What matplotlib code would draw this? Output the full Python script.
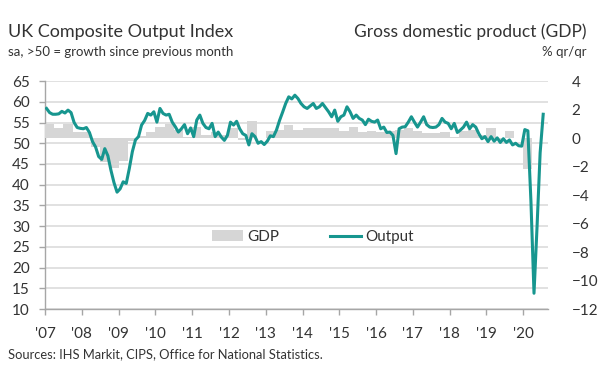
#!/usr/bin/env python3
"""
UK Composite Output Index vs quarterly GDP growth, 2007-2020
"""

import numpy as np
import matplotlib
matplotlib.use('Agg')
import matplotlib.pyplot as plt
from matplotlib.patches import Patch
from matplotlib.lines import Line2D

plt.rcParams['font.family'] = ['Lato', 'DejaVu Sans']

# monthly composite PMI, Jan 2007 .. Jul 2020
output_index = [
    58.4, 57.4, 57.0, 57.0, 57.1, 57.7, 57.3, 58.0, 57.4, 55.0, 53.8, 53.6,  # 2007
    53.5, 53.8, 52.6, 50.4, 49.1, 46.8, 46.1, 48.7, 47.0, 43.5, 40.5, 38.2,  # 2008
    39.0, 40.7, 40.3, 43.9, 48.0, 50.8, 51.6, 54.4, 55.5, 57.2, 56.8, 57.6,  # 2009
    55.1, 58.4, 57.2, 56.8, 57.0, 55.1, 54.0, 52.7, 53.5, 54.5, 52.3, 53.7,  # 2010
    51.6, 55.6, 56.8, 54.8, 53.8, 53.5, 54.8, 51.6, 52.7, 51.5, 50.7, 51.9,  # 2011
    55.1, 54.4, 55.3, 53.5, 52.3, 51.9, 49.6, 52.3, 51.6, 50.0, 50.4, 49.7,  # 2012
    50.5, 51.8, 51.6, 53.2, 55.5, 57.5, 59.6, 61.2, 60.7, 61.6, 60.8, 59.6,  # 2013
    58.8, 58.4, 59.0, 59.6, 58.4, 58.8, 59.6, 58.6, 57.6, 56.4, 58.0, 55.3,  # 2014
    56.4, 56.8, 58.8, 57.6, 56.0, 56.8, 56.0, 55.6, 54.5, 55.8, 55.3, 55.1,  # 2015
    55.6, 53.5, 53.9, 52.6, 52.7, 51.9, 47.5, 53.5, 53.9, 54.0, 55.1, 56.4,  # 2016
    55.1, 53.9, 55.1, 56.4, 54.5, 53.9, 53.8, 53.9, 54.5, 56.0, 55.1, 54.8,  # 2017
    53.5, 54.8, 52.6, 53.2, 53.9, 55.1, 53.5, 54.5, 53.9, 52.3, 51.1, 51.6,  # 2018
    50.4, 51.6, 50.5, 51.3, 50.2, 51.1, 50.2, 50.8, 49.6, 50.0, 49.4, 49.3,  # 2019
    53.3, 53.0, 36.0, 13.8, 30.0, 47.7, 57.0,                                # 2020
]

# quarterly GDP % q/q, 2007 Q1 .. 2020 Q1
gdp_qoq = [
    1.0, 0.7, 1.0, 0.45,     # 2007
    0.45, -0.6, -1.7, -2.1,  # 2008
    -1.6, -0.2, 0.15, 0.4,   # 2009
    0.8, 1.0, 0.6, 0.1,      # 2010
    0.8, 0.2, 0.4, 0.2,      # 2011
    0.7, -0.1, 1.2, 0.0,     # 2012
    0.5, 0.6, 0.9, 0.6,      # 2013
    0.7, 0.7, 0.7, 0.7,      # 2014
    0.5, 0.8, 0.4, 0.5,      # 2015
    0.4, 0.5, 0.6, 0.7,      # 2016
    0.5, 0.35, 0.35, 0.4,    # 2017
    0.1, 0.5, 0.6, 0.2,      # 2018
    0.7, -0.1, 0.5, 0.0,     # 2019
    -2.2,                    # 2020
]

years = list(range(2007, 2021))
year_labels = ["'%02d" % (y % 100) for y in years]
left_ticks = list(range(10, 70, 5))
right_ticks = list(range(-12, 6, 2))

TEAL = '#17968f'
GREY = '#d6d6d6'
TXT = '#333333'

# x positions in decimal years
month_x = 2007 + (np.arange(len(output_index)) + 0.5) / 12.0
quarter_x = 2007 + np.arange(len(gdp_qoq)) * 0.25

fig = plt.figure(figsize=(6, 3.67), dpi=100)
pos = [0.075, 0.158, 0.838, 0.621]

ax = fig.add_axes(pos)
ax.set_xlim(2007, 2020 + 8 / 12.0)
ax.set_ylim(10, 65)
ax.set_yticks(left_ticks)
ax.set_xticks(years)
ax.set_xticklabels(year_labels)
ax.grid(axis='y', color='#d9d9d9', lw=1.1)
ax.set_axisbelow(True)
for s in ['top', 'right']:
    ax.spines[s].set_visible(False)
for s in ['left', 'bottom']:
    ax.spines[s].set_color('#a6a6a6')
    ax.spines[s].set_linewidth(1.0)
ax.tick_params(axis='y', length=4, width=1, color='#a6a6a6', pad=7,
               labelsize=11, labelcolor=TXT)
ax.tick_params(axis='x', length=4, width=1, color='#a6a6a6', pad=9,
               labelsize=11, labelcolor=TXT)

# GDP bars on the right-hand scale
ax2 = ax.twinx()
ax2.bar(quarter_x, gdp_qoq, width=0.25, align='edge', color=GREY, lw=0)
ax2.set_ylim(-12, 4)
ax2.set_yticks(right_ticks)
for s in ax2.spines.values():
    s.set_visible(False)
ax2.tick_params(axis='y', length=0, pad=17, labelsize=11, labelcolor=TXT)

# output line on top, sharing the left scale
ax3 = fig.add_axes(pos, sharex=ax, sharey=ax)
ax3.patch.set_visible(False)
ax3.axis('off')
ax3.plot(month_x, output_index, color=TEAL, lw=2.2, solid_joinstyle='round')

handles = [Patch(facecolor=GREY, edgecolor='none'),
           Line2D([], [], color=TEAL, lw=2.2)]
ax3.legend(handles, ['GDP', 'Output'], loc='center', bbox_to_anchor=(0.533, 0.316),
           ncol=2, frameon=False, fontsize=11, handlelength=2.0, handleheight=0.7,
           handletextpad=0.3, columnspacing=3.3, labelcolor=TXT)

fig.text(0.013, 0.9, 'UK Composite Output Index', fontsize=13, color=TXT,
         va='baseline')
fig.text(0.013, 0.847, 'sa, >50 = growth since previous month', fontsize=9.5,
         color=TXT, va='baseline')
fig.text(0.978, 0.9, 'Gross domestic product (GDP)', fontsize=12.5, color=TXT,
         va='baseline', ha='right')
fig.text(0.978, 0.847, '% qr/qr', fontsize=9.5, color=TXT, va='baseline', ha='right')
fig.text(0.013, 0.025, 'Sources: IHS Markit, CIPS, Office for National Statistics.',
         fontsize=9.3, color=TXT, va='baseline')

fig.savefig('out.png', dpi=100)
